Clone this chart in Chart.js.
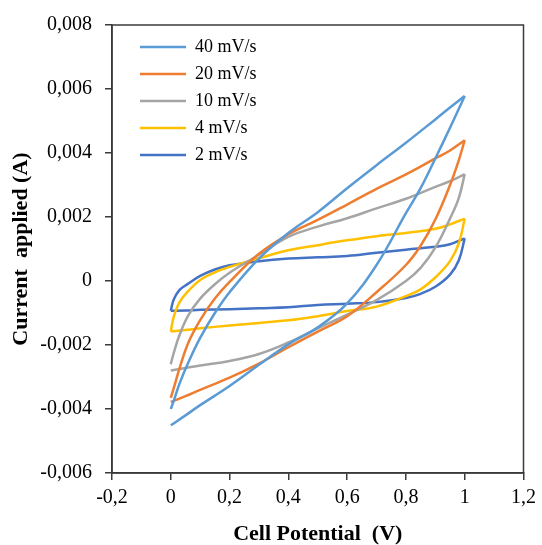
<!DOCTYPE html>
<html>
<head>
<meta charset="utf-8">
<script src="https://cdn.jsdelivr.net/npm/chart.js@4"></script>
<style>
  html, body { margin: 0; padding: 0; background: #fff; }
  #wrap { width: 542px; height: 545px; }
</style>
</head>
<body>
<div id="wrap"><canvas id="cv"></canvas></div>
<script>
// scan rates (legend order) and Excel palette
const rateLabels = ['40 mV/s', '20 mV/s', '10 mV/s', '4 mV/s', '2 mV/s'];
const rateColors = ['#5B9BD5', '#ED7D31', '#A5A5A5', '#FFC000', '#4472C4'];

// potential grid (V): forward sweep 0 -> 1, reverse sweep 1 -> 0
const potUp = [0, 0.01, 0.03, 0.06, 0.1, 0.15, 0.2, 0.3, 0.4, 0.5, 0.6, 0.7, 0.8, 0.9, 0.95, 1];
const potDown = [1, 0.98, 0.95, 0.9, 0.85, 0.8, 0.7, 0.6, 0.5, 0.4, 0.3, 0.2, 0.1, 0.05, 0];

// current (A), forward sweep
const up40 = [-0.004, -0.00375, -0.0032, -0.00254, -0.00178, -0.001, -0.00035, 0.0007, 0.0015, 0.00215, 0.0029, 0.00362, 0.00432, 0.00505, 0.00542, 0.00578];
const up20 = [-0.00365, -0.00335, -0.00272, -0.00192, -0.00122, -0.00055, -0.00003, 0.00085, 0.00146, 0.00191, 0.00239, 0.00288, 0.00333, 0.00383, 0.00408, 0.0044];
const up10 = [-0.0026, -0.00225, -0.00168, -0.00107, -0.00055, -0.0001, 0.00026, 0.00082, 0.00138, 0.0017, 0.00196, 0.00227, 0.00257, 0.00294, 0.00312, 0.00334];
const up4 = [-0.00158, -0.00112, -0.00066, -0.00031, 0.00003, 0.00027, 0.00044, 0.00071, 0.00096, 0.00112, 0.00127, 0.0014, 0.0015, 0.00163, 0.00177, 0.00195];
const up2 = [-0.00093, -0.00058, -0.00028, -0.00008, 0.00016, 0.00036, 0.00049, 0.00062, 0.0007, 0.00074, 0.00078, 0.00088, 0.00098, 0.00107, 0.00115, 0.00133];

// current (A), reverse sweep
const down40 = [0.00578, 0.00538, 0.00479, 0.00383, 0.0029, 0.00212, 0.0005, -0.0007, -0.00145, -0.00198, -0.00262, -0.00328, -0.00388, -0.0042, -0.00451];
const down20 = [0.0044, 0.00378, 0.003, 0.00192, 0.0011, 0.0005, -0.00035, -0.0011, -0.00158, -0.00207, -0.00258, -0.00302, -0.0034, -0.0036, -0.00378];
const down10 = [0.00334, 0.0026, 0.00195, 0.00104, 0.00041, 0, -0.0006, -0.00105, -0.00148, -0.00192, -0.00228, -0.0025, -0.00264, -0.00272, -0.0028];
const down4 = [0.00195, 0.00118, 0.00062, 0.00011, -0.00026, -0.00047, -0.0008, -0.00094, -0.0011, -0.00123, -0.00131, -0.00139, -0.00148, -0.00153, -0.00158];
const down2 = [0.00133, 0.00065, 0.0002, -0.00018, -0.0004, -0.00053, -0.00066, -0.00071, -0.00075, -0.00082, -0.00085, -0.00088, -0.0009, -0.00092, -0.00093];

const upSeries = [up40, up20, up10, up4, up2];
const downSeries = [down40, down20, down10, down4, down2];

const serif = "'Times New Roman', 'Liberation Serif', serif";
const axisColor = '#3a3a3a';

const toPoints = (xs, ys) => xs.map((x, i) => ({x: x, y: ys[i]}));
const fmt = v => String(Number(v.toFixed(3))).replace('.', ',');

const datasets = [];
rateLabels.forEach((label, i) => {
    const common = {
        borderColor: rateColors[i],
        backgroundColor: rateColors[i],
        borderWidth: 2.5,
        pointRadius: 0,
        tension: 0.4,
        fill: false
    };
    datasets.push(Object.assign({label: label, data: toPoints(potUp, upSeries[i])}, common));
    datasets.push(Object.assign({label: label + ' rev', data: toPoints(potDown, downSeries[i])}, common));
});

// box around the plot area, like the Excel frame
const frame = {
    id: 'frame',
    afterDraw(chart) {
        const {ctx, chartArea: a} = chart;
        ctx.save();
        ctx.strokeStyle = axisColor;
        ctx.lineWidth = 1.5;
        ctx.strokeRect(a.left, a.top, a.right - a.left, a.bottom - a.top);
        ctx.restore();
    }
};

// put the in-plot legend where Excel put it (top-left, inset)
const legendNudge = {
    id: 'legendNudge',
    afterLayout(chart) {
        const lg = chart.legend;
        if (lg) {
            lg.left = chart.chartArea.left + 19;
            lg.top = chart.chartArea.top + 4;
        }
    }
};

new Chart(document.getElementById('cv'), {
    type: 'line',
    data: {datasets: datasets},
    plugins: [frame, legendNudge],
    options: {
        responsive: true,
        maintainAspectRatio: false,
        animation: false,
        layout: {padding: {left: 0, right: 14, top: 23, bottom: 0}},
        plugins: {
            tooltip: {enabled: false},
            legend: {
                position: 'chartArea',
                align: 'start',
                labels: {
                    filter: item => item.datasetIndex % 2 === 0,
                    usePointStyle: true,
                    pointStyle: 'line',
                    pointStyleWidth: 46,
                    padding: 9,
                    color: '#000',
                    font: {family: serif, size: 18}
                }
            }
        },
        scales: {
            x: {
                type: 'linear',
                min: -0.2,
                max: 1.2,
                afterFit: s => { s.height = 72; },
                border: {color: axisColor, width: 1.5},
                grid: {drawOnChartArea: false, drawTicks: true, tickLength: 7, color: axisColor, lineWidth: 1.5},
                ticks: {stepSize: 0.2, padding: 6, color: '#000', font: {family: serif, size: 20}, callback: fmt, maxRotation: 0},
                title: {display: true, text: 'Cell Potential  (V)', color: '#000', padding: 0,
                    font: {family: serif, size: 22, weight: 'bold', lineHeight: 1}}
            },
            y: {
                min: -0.006,
                max: 0.008,
                afterFit: s => { s.width = 112; },
                border: {color: axisColor, width: 1.5},
                grid: {drawOnChartArea: false, drawTicks: true, tickLength: 7, color: axisColor, lineWidth: 1.5},
                ticks: {stepSize: 0.002, padding: 13, color: '#000', font: {family: serif, size: 20}, callback: fmt},
                title: {display: true, text: 'Current  applied (A)', color: '#000', padding: {top: 10, bottom: 0},
                    font: {family: serif, size: 22, weight: 'bold', lineHeight: 1}}
            }
        }
    }
});
</script>
</body>
</html>
